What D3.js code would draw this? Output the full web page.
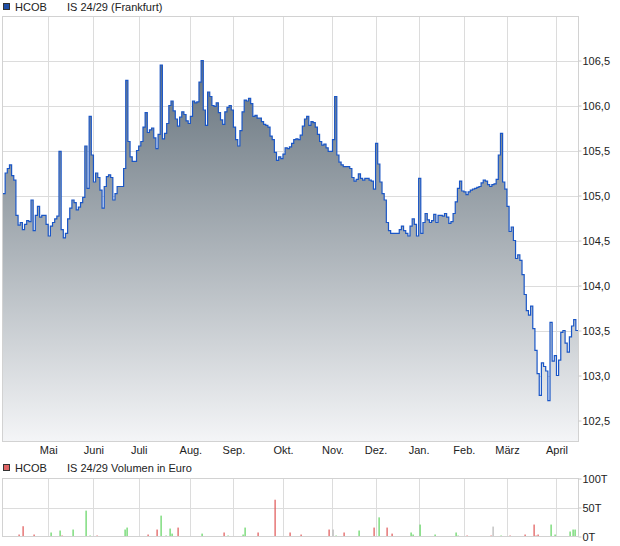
<!DOCTYPE html>
<html>
<meta charset="utf-8">
<style>
body { margin: 0; background: #fff; }
svg text { font-family: "Liberation Sans", Arial, sans-serif; font-size: 11px; fill: #222; }
.grid line { stroke: #dcdcdc; shape-rendering: crispEdges; }
.frame { fill: none; stroke: #d2d2d2; shape-rendering: crispEdges; }
.axis .domain { display: none; }
.axis .tick line { stroke: #c8c8c8; }
</style>
<body>
<svg id="chart" width="620" height="546"></svg>
<script src="https://d3js.org/d3.v7.min.js"></script>
<script>

// daily closing prices, one per trading day
var prices = [
  105.02, 105.25, 105.30, 105.34, 105.22, 105.17, 104.78, 104.67, 104.70, 104.62,
  104.68, 104.72, 104.71, 104.95, 104.61, 104.78, 104.88, 104.76, 104.78, 104.78,
  104.68, 104.55, 104.66, 104.70, 104.74, 104.77, 105.49, 104.62, 104.53, 104.58,
  104.74, 104.86, 104.95, 104.92, 104.84, 104.87, 104.92, 104.98, 105.55, 105.08,
  105.88, 105.45, 105.15, 105.25, 105.20, 105.06, 104.86, 105.10, 105.21, 105.23,
  105.20, 104.95, 105.02, 105.10, 105.10, 105.10, 105.30, 106.28, 105.60, 105.43,
  105.38, 105.38, 105.50, 105.55, 105.60, 105.76, 105.92, 105.70, 105.73, 105.75,
  105.64, 105.52, 105.68, 106.45, 105.63, 105.69, 105.80, 106.00, 106.05, 105.94,
  105.85, 105.77, 105.87, 105.93, 105.90, 105.83, 105.80, 105.88, 106.05, 106.03,
  106.04, 106.26, 106.50, 105.95, 105.78, 106.15, 106.10, 106.00, 105.99, 106.03,
  105.92, 105.84, 105.79, 105.93, 105.98, 106.00, 105.95, 105.76, 105.62, 105.55,
  105.72, 105.93, 106.06, 106.05, 106.08, 106.02, 105.88, 105.89, 105.86, 105.86,
  105.82, 105.79, 105.78, 105.76, 105.66, 105.62, 105.48, 105.39, 105.43, 105.41,
  105.46, 105.53, 105.52, 105.54, 105.58, 105.62, 105.63, 105.62, 105.67, 105.77,
  105.85, 105.88, 105.78, 105.82, 105.81, 105.76, 105.68, 105.60, 105.56, 105.57,
  105.53, 105.49, 105.49, 105.62, 106.10, 105.45, 105.37, 105.34, 105.32, 105.32,
  105.32, 105.30, 105.20, 105.16, 105.18, 105.24, 105.19, 105.17, 105.19, 105.19,
  105.17, 105.16, 105.07, 105.58, 105.35, 105.15, 105.02, 104.95, 104.70, 104.61,
  104.58, 104.58, 104.58, 104.58, 104.62, 104.66, 104.61, 104.58, 104.55, 104.66,
  104.74, 104.68, 104.55, 105.19, 104.58, 104.70, 104.80, 104.73, 104.70, 104.72,
  104.79, 104.70, 104.78, 104.78, 104.77, 104.80, 104.76, 104.69, 104.71, 104.80,
  104.93, 105.08, 105.16, 105.05, 105.04, 105.01, 105.04, 105.06, 105.07, 105.08,
  105.09, 105.10, 105.14, 105.17, 105.16, 105.12, 105.10, 105.12, 105.13, 105.18,
  105.45, 105.69, 105.15, 105.07, 104.88, 104.60, 104.65, 104.50, 104.30, 104.34,
  104.28, 104.12, 103.90, 103.72, 103.67, 103.77, 103.52, 103.28, 103.02, 102.78,
  103.14, 103.10, 103.05, 102.72, 103.59, 103.16, 103.22, 103.00, 103.17, 103.48,
  103.50, 103.36, 103.26, 103.43, 103.55, 103.62, 103.50, 103.50
];

// first trading day of each month (index into prices)
var monthLabels = ["Mai", "Juni", "Juli", "Aug.", "Sep.", "Okt.", "Nov.", "Dez.", "Jan.", "Feb.", "März", "April"];
var monthStarts = [21, 42, 63, 87, 107, 130, 153, 173, 193, 214, 234, 257];

var priceTicks = [102.5, 103.0, 103.5, 104.0, 104.5, 105.0, 105.5, 106.0, 106.5];

// turnover in thousand euro, only days with trades
var volDays    = [7, 9, 14, 22, 26, 27, 32, 38, 40, 43, 56, 57, 67, 71, 73, 75, 77, 78, 81, 92,
                  102, 104, 111, 112, 118, 126, 133, 138, 151, 153, 154, 158, 165, 172, 174, 178, 180, 189, 190, 193,
                  200, 210, 211, 215, 226, 227, 231, 235, 242, 246, 247, 248, 254, 256, 263, 264, 265];
var volAmounts = [3.4, 17.7, 3.4, 6.9, 10.3, 1.7, 12, 44.6, 1.7, 1.7, 12, 15.4, 3.4, 12, 36, 1.7, 13.7, 5, 15.4, 5,
                  6.9, 1.7, 3.4, 15.4, 6.9, 63.4, 6.9, 3.4, 12, 12, 1.7, 6.9, 10.3, 15.4, 33, 15.4, 5, 6.9, 3.4, 20.6,
                  3.4, 6.9, 1.7, 1.7, 1.7, 17.1, 1.7, 1.7, 3.4, 20.6, 1.7, 3.4, 20.6, 3.4, 8.6, 12, 12];
var volDir     = ["d", "d", "d", "u", "u", "d", "u", "u", "u", "d", "u", "u", "d", "d", "u", "u", "u", "u", "d", "u",
                  "d", "u", "u", "u", "d", "d", "d", "d", "d", "n", "u", "d", "u", "d", "u", "d", "d", "u", "u", "u",
                  "u", "u", "u", "d", "d", "n", "u", "d", "d", "d", "d", "d", "u", "u", "u", "u", "u"];
var volTicks = [0, 50, 100];

var left = 3, right = 578,
    top1 = 16.5, bottom1 = 441.5,
    top2 = 478.5, bottom2 = 536.5;

var svg = d3.select("#chart");
var de = d3.formatLocale({decimal: ",", thousands: ".", grouping: [3], currency: ["", " €"]});
var fmt = de.format(".1f");

var x = d3.scaleLinear().domain([0, prices.length - 1]).range([left, right]);
var y = d3.scaleLinear().domain([102.5, 106.5]).range([420.5, 60.5]);
var yv = d3.scaleLinear().domain([0, 100]).range([bottom2, top2]);

var grad = svg.append("defs").append("linearGradient")
    .attr("id", "fade")
    .attr("gradientUnits", "userSpaceOnUse")
    .attr("x1", 0).attr("y1", 60).attr("x2", 0).attr("y2", bottom1);
grad.append("stop").attr("offset", "0%").attr("stop-color", "#65727c");
grad.append("stop").attr("offset", "100%").attr("stop-color", "#f4f5f7");

// price panel grid
var grid = svg.append("g").attr("class", "grid");
grid.selectAll(".h").data(priceTicks).enter().append("line")
    .attr("x1", left).attr("x2", right)
    .attr("y1", d => Math.round(y(d)) + 0.5).attr("y2", d => Math.round(y(d)) + 0.5);
grid.selectAll(".v").data(monthStarts).enter().append("line")
    .attr("x1", d => Math.round(x(d)) + 0.5).attr("x2", d => Math.round(x(d)) + 0.5)
    .attr("y1", top1).attr("y2", bottom1);

var area = d3.area()
    .curve(d3.curveStepAfter)
    .x((d, i) => x(i))
    .y0(bottom1)
    .y1(d => y(d));

var line = d3.line()
    .curve(d3.curveStepAfter)
    .x((d, i) => x(i))
    .y(d => y(d));

svg.append("path").datum(prices)
    .attr("d", area)
    .attr("fill", "url(#fade)");

svg.append("path").datum(prices)
    .attr("d", line)
    .attr("fill", "none")
    .attr("stroke", "#1a56c6")
    .attr("stroke-width", 1.2);

svg.append("rect").attr("class", "frame")
    .attr("x", left - 0.5).attr("y", top1).attr("width", right - left + 1).attr("height", bottom1 - top1);

svg.append("g").attr("class", "axis")
    .attr("transform", "translate(" + (right + 0.5) + ",0)")
    .call(d3.axisRight(y).tickValues(priceTicks).tickFormat(fmt).tickSize(3).tickPadding(1));

svg.append("g").attr("class", "axis")
    .attr("transform", "translate(0," + bottom1 + ")")
    .call(d3.axisBottom(x).tickValues(monthStarts).tickFormat((d, i) => monthLabels[i]).tickSize(0).tickPadding(5));

// legends
svg.append("rect").attr("x", 3.5).attr("y", 3.5).attr("width", 6).attr("height", 6)
    .attr("fill", "#1f4fa8").attr("stroke", "#333");
svg.append("text").attr("x", 15).attr("y", 11).text("HCOB");
svg.append("text").attr("x", 67).attr("y", 11).text("IS 24/29 (Frankfurt)");

svg.append("rect").attr("x", 3.5).attr("y", 464.5).attr("width", 6).attr("height", 6)
    .attr("fill", "#e06464").attr("stroke", "#333");
svg.append("text").attr("x", 15).attr("y", 472).text("HCOB");
svg.append("text").attr("x", 67).attr("y", 472).text("IS 24/29 Volumen in Euro");

// volume panel
var vgrid = svg.append("g").attr("class", "grid");
vgrid.append("line").attr("x1", left).attr("x2", right)
    .attr("y1", Math.round(yv(50)) + 0.5).attr("y2", Math.round(yv(50)) + 0.5);
vgrid.selectAll(".v").data(monthStarts).enter().append("line")
    .attr("x1", d => Math.round(x(d)) + 0.5).attr("x2", d => Math.round(x(d)) + 0.5)
    .attr("y1", top2).attr("y2", bottom2);

var volColor = {u: "#5fd35f", d: "#e05555", n: "#b4b4b4"};
svg.selectAll(".vol").data(volDays).enter().append("rect")
    .attr("class", "vol")
    .attr("x", d => Math.round(x(d)) + 0.5)
    .attr("width", 1.2)
    .attr("y", (d, i) => yv(volAmounts[i]))
    .attr("height", (d, i) => bottom2 - yv(volAmounts[i]))
    .attr("fill", (d, i) => volColor[volDir[i]]);

svg.append("rect").attr("class", "frame")
    .attr("x", left - 0.5).attr("y", top2).attr("width", right - left + 1).attr("height", bottom2 - top2);

svg.append("g").attr("class", "axis")
    .attr("transform", "translate(" + (right + 0.5) + ",0)")
    .call(d3.axisRight(yv).tickValues(volTicks).tickFormat(d => d + "T").tickSize(3).tickPadding(1));

</script>
</body>
</html>
